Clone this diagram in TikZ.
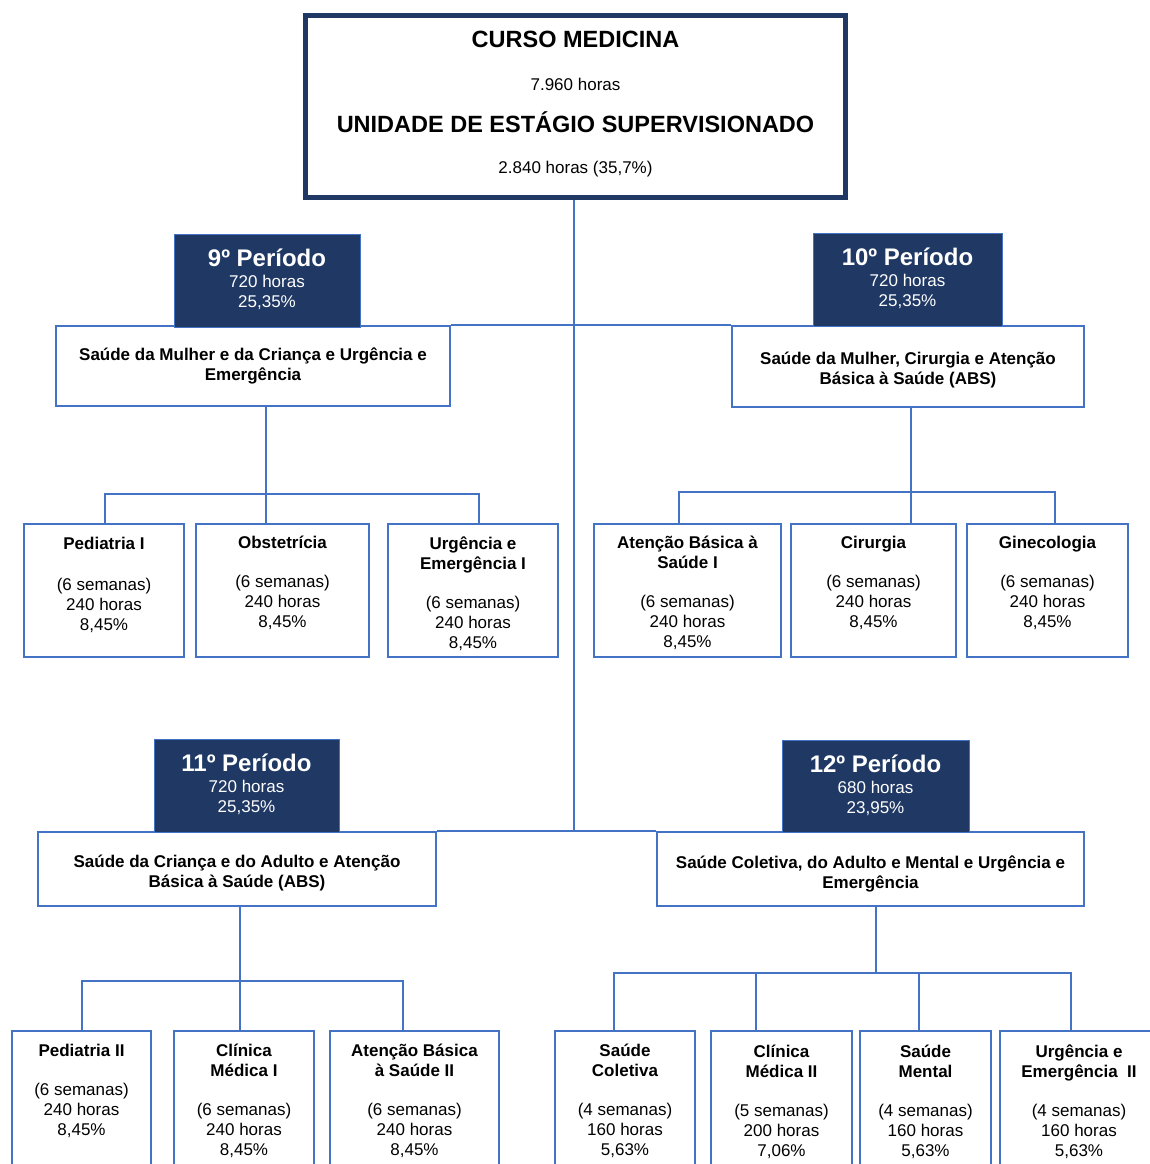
\documentclass[tikz,border=0pt]{standalone}
\usepackage{fontspec}
\setmainfont{Liberation Sans}
\usetikzlibrary{calc}
\definecolor{lineblue}{RGB}{68,114,196}
\definecolor{navyfill}{RGB}{31,56,100}

\begin{document}
\begin{tikzpicture}[x=1pt, y=-1pt,
  conn/.style={lineblue, line width=2pt},
  leafbox/.style={draw=lineblue, line width=2pt, inner sep=0pt},
  perbox/.style={draw=lineblue, fill=navyfill, line width=1pt, inner sep=0pt},
  txt/.style={inner sep=0pt, align=center, font=\fontsize{17pt}{20pt}\selectfont},
  bigtxt/.style={txt, font=\fontsize{23.5pt}{24pt}\selectfont\bfseries},
  subtxt/.style={txt, anchor=north, font=\fontsize{17pt}{20pt}\selectfont\bfseries},
  pertxt/.style={txt, text=white, anchor=north},
  leaftxt/.style={txt, anchor=north}]
\useasboundingbox (0,0) rectangle (1149,1164);

\node[draw=navyfill, line width=5pt, minimum width=540pt, minimum height=182pt, inner sep=0pt] (top) at (575.5,106.5) {};
\node[bigtxt, anchor=base] (curso) at (575.5,48) {CURSO MEDICINA};
\node[txt, anchor=base] (hcurso) at (575.5,90) {7.960 horas};
\node[bigtxt, anchor=base] (unidade) at (575.5,132) {UNIDADE DE ESTÁGIO SUPERVISIONADO};
\node[txt, anchor=base] (hunidade) at (575.5,173) {2.840 horas (35,7\%)};

% blocos dos periodos
\node[leafbox, minimum width=394pt, minimum height=80pt] (s9) at (253,365.5) {};
\node[subtxt] (s9t) at (253,347.6) {Saúde da Mulher e da Criança e Urgência e\\Emergência};
\node[leafbox, minimum width=352pt, minimum height=81pt] (s10) at (908,366) {};
\node[subtxt] (s10t) at (908,351.6) {Saúde da Mulher, Cirurgia e Atenção\\Básica à Saúde (ABS)};
\node[leafbox, minimum width=398pt, minimum height=74pt] (s11) at (237,868.5) {};
\node[subtxt] (s11t) at (237,854.6) {Saúde da Criança e do Adulto e Atenção\\Básica à Saúde (ABS)};
\node[leafbox, minimum width=427pt, minimum height=74pt] (s12) at (870.5,868.5) {};
\node[subtxt] (s12t) at (870.5,855.6) {Saúde Coletiva, do Adulto e Mental e Urgência e\\Emergência};

\node[perbox, minimum width=186pt, minimum height=93pt] (p9) at (267,280.5) {};
\node[pertxt] (p9t) at (267,248.5) {{\fontsize{24pt}{24pt}\selectfont\bfseries 9º Período}\\[1pt]720 horas\\25,35\%};
\node[perbox, minimum width=189pt, minimum height=93pt] (p10) at (907.5,279.5) {};
\node[pertxt] (p10t) at (907.5,248) {{\fontsize{24pt}{24pt}\selectfont\bfseries 10º Período}\\[1pt]720 horas\\25,35\%};
\node[perbox, minimum width=185pt, minimum height=93pt] (p11) at (246.5,785.5) {};
\node[pertxt] (p11t) at (246.5,754) {{\fontsize{24pt}{24pt}\selectfont\bfseries 11º Período}\\[1pt]720 horas\\25,35\%};
\node[perbox, minimum width=187pt, minimum height=92pt] (p12) at (875.5,786) {};
\node[pertxt] (p12t) at (875.5,755) {{\fontsize{24pt}{24pt}\selectfont\bfseries 12º Período}\\[1pt]680 horas\\23,95\%};

% estagios
\node[leafbox, minimum width=160pt, minimum height=133.5pt] (ped1) at (104,590.25) {};
\node[leaftxt] (ped1t) at (104,536.6) {{\bfseries Pediatria I}\\[21pt](6 semanas)\\240 horas\\8,45\%};
\node[leafbox, minimum width=173pt, minimum height=133.5pt] (obst) at (282.5,590.25) {};
\node[leaftxt] (obstt) at (282.5,535.6) {{\bfseries Obstetrícia}\\[19pt](6 semanas)\\240 horas\\8,45\%};
\node[leafbox, minimum width=170pt, minimum height=133.5pt] (urg1) at (473,590.25) {};
\node[leaftxt] (urg1t) at (473,536.6) {{\bfseries Urgência e}\\{\bfseries Emergência I}\\[19pt](6 semanas)\\240 horas\\8,45\%};
\node[leafbox, minimum width=187pt, minimum height=133.5pt] (abs1) at (687.5,590.25) {};
\node[leaftxt] (abs1t) at (687.5,535.6) {{\bfseries Atenção Básica à}\\{\bfseries Saúde I}\\[19pt](6 semanas)\\240 horas\\8,45\%};
\node[leafbox, minimum width=165pt, minimum height=133.5pt] (cir) at (873.5,590.25) {};
\node[leaftxt] (cirt) at (873.5,535.6) {{\bfseries Cirurgia}\\[19pt](6 semanas)\\240 horas\\8,45\%};
\node[leafbox, minimum width=161pt, minimum height=133.5pt] (gin) at (1047.5,590.25) {};
\node[leaftxt] (gint) at (1047.5,535.6) {{\bfseries Ginecologia}\\[19pt](6 semanas)\\240 horas\\8,45\%};

\node[leafbox, minimum width=139pt, minimum height=149pt] (ped2) at (81.5,1105.5) {};
\node[leaftxt] (ped2t) at (81.5,1043.6) {{\bfseries Pediatria II}\\[19pt](6 semanas)\\240 horas\\8,45\%};
\node[leafbox, minimum width=140pt, minimum height=149pt] (cm1) at (244,1105.5) {};
\node[leaftxt] (cm1t) at (244,1043.6) {{\bfseries Clínica}\\{\bfseries Médica I}\\[19pt](6 semanas)\\240 horas\\8,45\%};
\node[leafbox, minimum width=169pt, minimum height=149pt] (abs2) at (414.5,1105.5) {};
\node[leaftxt] (abs2t) at (414.5,1043.6) {{\bfseries Atenção Básica}\\{\bfseries à Saúde II}\\[19pt](6 semanas)\\240 horas\\8,45\%};
\node[leafbox, minimum width=140pt, minimum height=149pt] (sc) at (625,1105.5) {};
\node[leaftxt] (sct) at (625,1043.6) {{\bfseries Saúde}\\{\bfseries Coletiva}\\[19pt](4 semanas)\\160 horas\\5,63\%};
\node[leafbox, minimum width=141pt, minimum height=149pt] (cm2) at (781.5,1105.5) {};
\node[leaftxt] (cm2t) at (781.5,1044.6) {{\bfseries Clínica}\\{\bfseries Médica II}\\[19pt](5 semanas)\\200 horas\\7,06\%};
\node[leafbox, minimum width=131pt, minimum height=149pt] (sm) at (925.5,1105.5) {};
\node[leaftxt] (smt) at (925.5,1044.6) {{\bfseries Saúde}\\{\bfseries Mental}\\[19pt](4 semanas)\\160 horas\\5,63\%};
\node[leafbox, minimum width=158pt, minimum height=149pt] (ue2) at (1079,1105.5) {};
\node[leaftxt] (ue2t) at (1079,1044.6) {{\bfseries Urgência e}\\{\bfseries Emergência\ \ II}\\[19pt](4 semanas)\\160 horas\\5,63\%};

% ligacoes
\coordinate (trunk) at (574,831.5);
\draw[conn] (trunk |- top.south) -- (trunk);
\draw[conn] (s9.north east) -- (s9.north east -| s10.west);
\draw[conn] (s11.north east) -- (s11.north east -| s12.west);

\coordinate (j9) at (266,494);
\draw[conn] (j9 |- s9.south) -- (j9 |- obst.north);
\draw[conn] ([xshift=1pt]ped1.north) |- ([xshift=6pt]urg1.north |- j9) -- ([xshift=6pt]urg1.north);

\coordinate (j10) at (911,492);
\draw[conn] (j10 |- s10.south) -- (j10 |- cir.north);
\draw[conn] ([xshift=-8.5pt]abs1.north) |- ([xshift=7.5pt]gin.north |- j10) -- ([xshift=7.5pt]gin.north);

\coordinate (j11) at (240,981);
\draw[conn] (j11 |- s11.south) -- (j11 |- cm1.north);
\draw[conn] ([xshift=0.5pt]ped2.north) |- ([xshift=-11.5pt]abs2.north |- j11) -- ([xshift=-11.5pt]abs2.north);

\coordinate (j12) at (876,973);
\draw[conn] (j12 |- s12.south) -- (j12);
\draw[conn] ([xshift=-11pt]sc.north) |- ([xshift=-8pt]ue2.north |- j12) -- ([xshift=-8pt]ue2.north);
\draw[conn] ([xshift=-25.5pt]cm2.north) -- ([xshift=-25.5pt]cm2.north |- j12);
\draw[conn] ([xshift=-6.5pt]sm.north) -- ([xshift=-6.5pt]sm.north |- j12);

\end{tikzpicture}
\end{document}
